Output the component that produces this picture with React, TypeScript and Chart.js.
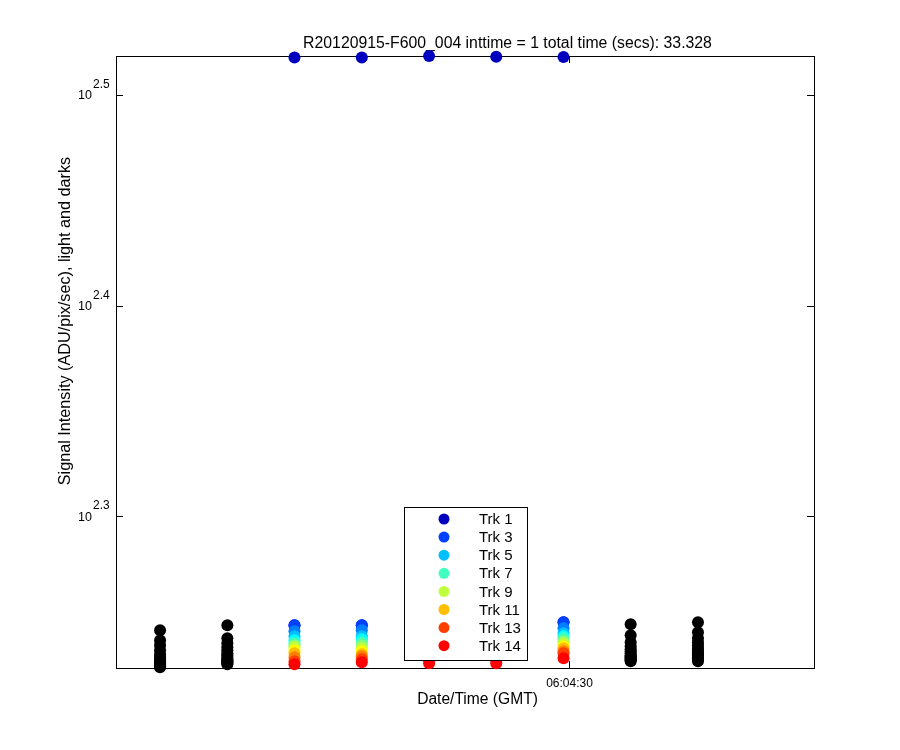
import { useEffect, useRef } from 'react';
import { Chart, registerables } from 'chart.js';

Chart.register(...registerables);

// ---- data ----
const titleText = 'R20120915-F600_004 inttime = 1 total time (secs): 33.328';
const xAxisTitle = 'Date/Time (GMT)';
const yAxisTitle = 'Signal Intensity (ADU/pix/sec), light and darks';

// frame times, seconds after 06:00:00 GMT
const frameTimes = [244.63, 248.8, 252.96, 257.13, 261.3, 265.46, 269.63, 273.79, 277.96];
const lightFrameIdx = [2, 3, 4, 5, 6];
const darkFrameIdx = [0, 1, 7, 8];

const trackNames = ['Trk 1', 'Trk 2', 'Trk 3', 'Trk 4', 'Trk 5', 'Trk 6', 'Trk 7', 'Trk 8', 'Trk 9', 'Trk 10', 'Trk 11', 'Trk 12', 'Trk 13', 'Trk 14'];
const trackColors = ['#0000BF', '#0000FF', '#0040FF', '#0080FF', '#00BFFF', '#00FFFF', '#40FFBF', '#80FF80', '#BFFF40', '#FFFF00', '#FFBF00', '#FF8000', '#FF4000', '#FF0000'];
const legendTracks = ['Trk 1', 'Trk 3', 'Trk 5', 'Trk 7', 'Trk 9', 'Trk 11', 'Trk 13', 'Trk 14'];

// light-frame values per track (frames 2..6)
const trk1 = [329.5, 329.5, 330.0, 329.75, 329.6];
const trk2 = [177.1, 177.1, 177.0, 177.2, 177.68];
const trk3 = [177.1, 177.1, 177.0, 177.2, 177.68];
const trk4 = [175.94, 176.13, 176.1, 176.1, 176.52];
const trk5 = [174.98, 174.98, 175.0, 175.0, 175.56];
const trk6 = [174.22, 174.41, 174.4, 174.4, 174.98];
const trk7 = [173.65, 173.84, 173.8, 173.8, 174.6];
const trk8 = [173.27, 173.27, 173.3, 173.3, 174.03];
const trk9 = [172.89, 172.7, 172.8, 172.8, 173.65];
const trk10 = [172.33, 172.14, 172.2, 172.2, 173.08];
const trk11 = [171.77, 171.58, 171.6, 171.6, 172.7];
const trk12 = [171.02, 171.2, 171.1, 171.1, 172.14];
const trk13 = [170.27, 170.64, 170.5, 170.5, 171.77];
const trk14 = [169.71, 170.08, 169.9, 169.9, 170.83];
const trackValues = [trk1, trk2, trk3, trk4, trk5, trk6, trk7, trk8, trk9, trk10, trk11, trk12, trk13, trk14];

// dark-frame values (all tracks) for frames 0, 1, 7, 8
const darkFrame0 = [176.13, 174.22, 173.27, 172.33, 171.58, 171.02, 170.64, 170.27, 170.08, 169.9, 169.71, 169.52, 169.34, 169.15];
const darkFrame1 = [177.1, 174.6, 173.65, 172.89, 172.33, 171.77, 171.39, 171.02, 170.64, 170.45, 170.27, 170.08, 169.9, 169.71];
const darkFrame7 = [177.29, 175.17, 173.84, 173.08, 172.52, 172.14, 171.77, 171.39, 171.2, 171.02, 170.83, 170.64, 170.45, 170.27];
const darkFrame8 = [177.68, 175.75, 174.6, 173.84, 173.27, 172.7, 172.33, 171.95, 171.58, 171.39, 171.02, 170.83, 170.64, 170.27];
const darkValues = [darkFrame0, darkFrame1, darkFrame7, darkFrame8];

const yTickExponents = [2.3, 2.4, 2.5];
const xTickSeconds = [270];
const xTickLabels = ['06:04:30'];
const yMin = 169.0;
const yMax = 330.0;
const xMin = 241.9;
const xMax = 285.15;

const FONT = '"Liberation Sans", Arial, Helvetica, sans-serif';

const matlabPlugin = {
  id: 'matlabAxes',
  beforeDatasetsDraw(chart: any) {
    const { ctx, chartArea: a, scales } = chart;
    ctx.save();
    ctx.strokeStyle = '#000';
    ctx.lineWidth = 1;
    ctx.strokeRect(a.left + 0.5, a.top + 0.5, a.right - a.left, a.bottom - a.top);
    ctx.beginPath();
    yTickExponents.forEach((e) => {
      const y = Math.round(scales.y.getPixelForValue(Math.pow(10, e))) + 0.5;
      ctx.moveTo(a.left, y); ctx.lineTo(a.left + 7, y);
      ctx.moveTo(a.right, y); ctx.lineTo(a.right - 7, y);
    });
    xTickSeconds.forEach((s) => {
      const x = Math.round(scales.x.getPixelForValue(s)) + 0.5;
      ctx.moveTo(x, a.bottom); ctx.lineTo(x, a.bottom - 7);
      ctx.moveTo(x, a.top); ctx.lineTo(x, a.top + 7);
    });
    ctx.stroke();

    ctx.fillStyle = '#000';
    // y tick labels 10^e
    yTickExponents.forEach((e) => {
      const y = scales.y.getPixelForValue(Math.pow(10, e));
      ctx.font = `12.5px ${FONT}`;
      ctx.textAlign = 'right';
      ctx.textBaseline = 'middle';
      ctx.fillText('10', a.left - 24, y + 1);
      ctx.font = `12px ${FONT}`;
      ctx.textAlign = 'left';
      ctx.fillText(String(e), a.left - 23, y - 10);
    });
    // x tick labels
    ctx.font = `12px ${FONT}`;
    ctx.textAlign = 'center';
    ctx.textBaseline = 'alphabetic';
    xTickSeconds.forEach((s, i) => {
      ctx.fillText(xTickLabels[i], scales.x.getPixelForValue(s), a.bottom + 18.5);
    });
    // title
    ctx.font = `15.8px ${FONT}`;
    ctx.fillText(titleText, 507.5, 48);
    // x axis title
    ctx.font = `15.6px ${FONT}`;
    ctx.fillText(xAxisTitle, 477.5, 704);
    // y axis title
    ctx.save();
    ctx.translate(70, 321);
    ctx.rotate(-Math.PI / 2);
    ctx.font = `16.2px ${FONT}`;
    ctx.fillText(yAxisTitle, 0, 0);
    ctx.restore();
    ctx.restore();
  },
  afterDatasetsDraw(chart: any) {
    const { ctx, chartArea: a } = chart;
    const w = 123;
    const h = 153;
    const left = Math.round((a.left + a.right) / 2 - w / 2);
    const bottom = a.bottom - 8;
    const top = bottom - h;
    ctx.save();
    ctx.fillStyle = '#fff';
    ctx.fillRect(left, top, w, h);
    ctx.strokeStyle = '#000';
    ctx.lineWidth = 1;
    ctx.strokeRect(left + 0.5, top + 0.5, w, h);
    ctx.font = `15px ${FONT}`;
    ctx.textAlign = 'left';
    ctx.textBaseline = 'middle';
    legendTracks.forEach((name, k) => {
      const idx = trackNames.indexOf(name);
      const y = top + 12 + k * 18.1;
      ctx.fillStyle = trackColors[idx];
      ctx.beginPath();
      ctx.arc(left + 40, y, 5.5, 0, Math.PI * 2);
      ctx.fill();
      ctx.fillStyle = '#000';
      ctx.fillText(name, left + 75, y + 1);
    });
    ctx.restore();
  },
};

export default function App() {
  const canvasRef = useRef<HTMLCanvasElement | null>(null);

  useEffect(() => {
    if (!canvasRef.current) return;
    const datasets: any[] = [];
    const darkPoints: { x: number; y: number }[] = [];
    darkFrameIdx.forEach((f, j) => {
      darkValues[j].forEach((v) => darkPoints.push({ x: frameTimes[f], y: v }));
    });
    datasets.push({
      label: 'darks',
      data: darkPoints,
      backgroundColor: '#000',
      pointBackgroundColor: '#000',
      pointRadius: 6,
      pointBorderWidth: 0,
      pointHoverRadius: 6,
      clip: false,
      order: 30,
    });
    trackValues.forEach((vals, i) => {
      datasets.push({
        label: trackNames[i],
        data: lightFrameIdx.map((f, j) => ({ x: frameTimes[f], y: vals[j] })),
        backgroundColor: trackColors[i],
        pointBackgroundColor: trackColors[i],
        pointRadius: 6,
        pointBorderWidth: 0,
        pointHoverRadius: 6,
        clip: false,
        order: 20 - i,
      });
    });

    const chart = new Chart(canvasRef.current, {
      type: 'scatter',
      data: { datasets },
      options: {
        responsive: false,
        animation: false,
        events: [],
        layout: { padding: { left: 116, right: 86, top: 56, bottom: 82 } },
        plugins: { legend: { display: false }, tooltip: { enabled: false }, title: { display: false } },
        scales: {
          x: { type: 'linear', min: xMin, max: xMax, display: false },
          y: { type: 'logarithmic', min: yMin, max: yMax, display: false },
        },
      },
      plugins: [matlabPlugin],
    });
    return () => chart.destroy();
  }, []);

  return (
    <div style={{ position: 'absolute', left: 0, top: 0, width: 900, height: 750, background: '#fff' }}>
      <canvas ref={canvasRef} width={900} height={750} style={{ width: 900, height: 750 }} />
    </div>
  );
}
